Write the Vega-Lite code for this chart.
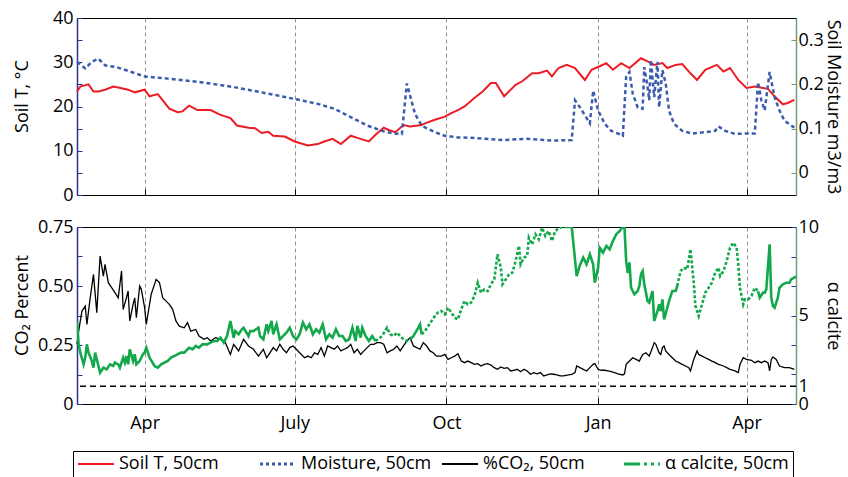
{
  "$schema": "https://vega.github.io/schema/vega-lite/v6.json",
  "padding": {"left": 12, "top": 8, "right": 0, "bottom": 0},
  "background": "white",
  "config": {
    "font": "Open Sans",
    "view": {"stroke": "black", "strokeWidth": 1},
    "axis": {"labelFontSize": 18, "titleFontSize": 18, "titleFontWeight": "normal", "labelColor": "black", "titleColor": "black", "tickColor": "black", "grid": false, "labelOverlap": false}
  },
  "datasets": {
    "soilT": [
      {"date": "2012-02-20", "temp": 23.4}, {"date": "2012-02-22", "temp": 24.5}, {"date": "2012-02-27", "temp": 25.0}, {"date": "2012-03-01", "temp": 23.4},
      {"date": "2012-03-04", "temp": 23.4}, {"date": "2012-03-08", "temp": 23.8}, {"date": "2012-03-13", "temp": 24.5}, {"date": "2012-03-16", "temp": 24.3},
      {"date": "2012-03-22", "temp": 23.8}, {"date": "2012-03-26", "temp": 23.2}, {"date": "2012-04-01", "temp": 23.8}, {"date": "2012-04-04", "temp": 22.3},
      {"date": "2012-04-09", "temp": 22.8}, {"date": "2012-04-16", "temp": 19.5}, {"date": "2012-04-21", "temp": 18.7}, {"date": "2012-04-24", "temp": 18.9},
      {"date": "2012-04-28", "temp": 20.2}, {"date": "2012-05-03", "temp": 19.2}, {"date": "2012-05-11", "temp": 19.2}, {"date": "2012-05-17", "temp": 18.1},
      {"date": "2012-05-23", "temp": 17.4}, {"date": "2012-05-27", "temp": 15.7}, {"date": "2012-06-03", "temp": 15.2}, {"date": "2012-06-07", "temp": 15.1},
      {"date": "2012-06-11", "temp": 14.0}, {"date": "2012-06-15", "temp": 14.3}, {"date": "2012-06-18", "temp": 13.4}, {"date": "2012-06-25", "temp": 13.2},
      {"date": "2012-07-01", "temp": 12.1}, {"date": "2012-07-09", "temp": 11.2}, {"date": "2012-07-15", "temp": 11.5}, {"date": "2012-07-19", "temp": 12.1},
      {"date": "2012-07-24", "temp": 12.7}, {"date": "2012-07-29", "temp": 11.5}, {"date": "2012-08-04", "temp": 13.4}, {"date": "2012-08-09", "temp": 12.8},
      {"date": "2012-08-15", "temp": 12.1}, {"date": "2012-08-19", "temp": 13.6}, {"date": "2012-08-24", "temp": 15.2}, {"date": "2012-08-27", "temp": 14.7},
      {"date": "2012-08-31", "temp": 14.2}, {"date": "2012-09-05", "temp": 15.8}, {"date": "2012-09-09", "temp": 15.5}, {"date": "2012-09-16", "temp": 15.8},
      {"date": "2012-09-18", "temp": 16.2}, {"date": "2012-09-24", "temp": 17.0}, {"date": "2012-09-30", "temp": 17.7}, {"date": "2012-10-04", "temp": 18.5},
      {"date": "2012-10-08", "temp": 19.2}, {"date": "2012-10-12", "temp": 20.0}, {"date": "2012-10-18", "temp": 21.9}, {"date": "2012-10-23", "temp": 23.4},
      {"date": "2012-10-28", "temp": 25.3}, {"date": "2012-10-31", "temp": 25.3}, {"date": "2012-11-05", "temp": 22.3}, {"date": "2012-11-12", "temp": 24.9},
      {"date": "2012-11-16", "temp": 25.7}, {"date": "2012-11-22", "temp": 27.5}, {"date": "2012-11-26", "temp": 27.5}, {"date": "2012-12-01", "temp": 28.1},
      {"date": "2012-12-04", "temp": 26.8}, {"date": "2012-12-08", "temp": 28.7}, {"date": "2012-12-13", "temp": 29.4}, {"date": "2012-12-18", "temp": 28.7},
      {"date": "2012-12-24", "temp": 26.0}, {"date": "2012-12-28", "temp": 28.3}, {"date": "2013-01-02", "temp": 29.1}, {"date": "2013-01-06", "temp": 29.8},
      {"date": "2013-01-10", "temp": 28.3}, {"date": "2013-01-15", "temp": 29.8}, {"date": "2013-01-20", "temp": 28.7}, {"date": "2013-01-27", "temp": 30.9},
      {"date": "2013-01-31", "temp": 30.2}, {"date": "2013-02-04", "temp": 29.4}, {"date": "2013-02-09", "temp": 29.8}, {"date": "2013-02-12", "temp": 28.7},
      {"date": "2013-02-17", "temp": 29.4}, {"date": "2013-02-21", "temp": 29.6}, {"date": "2013-02-26", "temp": 27.5}, {"date": "2013-03-02", "temp": 26.0},
      {"date": "2013-03-07", "temp": 28.3}, {"date": "2013-03-14", "temp": 29.4}, {"date": "2013-03-18", "temp": 27.9}, {"date": "2013-03-22", "temp": 28.7},
      {"date": "2013-03-27", "temp": 26.0}, {"date": "2013-04-01", "temp": 24.2}, {"date": "2013-04-06", "temp": 24.5}, {"date": "2013-04-11", "temp": 24.2},
      {"date": "2013-04-14", "temp": 24.0}, {"date": "2013-04-18", "temp": 22.3}, {"date": "2013-04-23", "temp": 20.5}, {"date": "2013-04-26", "temp": 20.8},
      {"date": "2013-04-30", "temp": 21.5}
    ],
    "moisture": [
      {"date": "2012-02-20", "moisture": 0.251}, {"date": "2012-02-25", "moisture": 0.236}, {"date": "2012-02-29", "moisture": 0.251}, {"date": "2012-03-04", "moisture": 0.258},
      {"date": "2012-03-08", "moisture": 0.243}, {"date": "2012-03-15", "moisture": 0.239}, {"date": "2012-04-01", "moisture": 0.218}, {"date": "2012-04-15", "moisture": 0.213},
      {"date": "2012-05-05", "moisture": 0.205}, {"date": "2012-05-25", "moisture": 0.194}, {"date": "2012-06-15", "moisture": 0.179}, {"date": "2012-07-01", "moisture": 0.167},
      {"date": "2012-07-15", "moisture": 0.156}, {"date": "2012-07-25", "moisture": 0.145}, {"date": "2012-08-04", "moisture": 0.126}, {"date": "2012-08-14", "moisture": 0.107},
      {"date": "2012-08-24", "moisture": 0.094}, {"date": "2012-08-30", "moisture": 0.089}, {"date": "2012-09-04", "moisture": 0.088}, {"date": "2012-09-07", "moisture": 0.202},
      {"date": "2012-09-12", "moisture": 0.133}, {"date": "2012-09-16", "moisture": 0.107}, {"date": "2012-09-18", "moisture": 0.103}, {"date": "2012-09-24", "moisture": 0.092},
      {"date": "2012-09-30", "moisture": 0.084}, {"date": "2012-10-08", "moisture": 0.080}, {"date": "2012-10-18", "moisture": 0.079}, {"date": "2012-11-04", "moisture": 0.074},
      {"date": "2012-11-18", "moisture": 0.077}, {"date": "2012-12-04", "moisture": 0.073}, {"date": "2012-12-16", "moisture": 0.074}, {"date": "2012-12-18", "moisture": 0.164},
      {"date": "2012-12-21", "moisture": 0.148}, {"date": "2012-12-24", "moisture": 0.130}, {"date": "2012-12-27", "moisture": 0.112}, {"date": "2012-12-29", "moisture": 0.186},
      {"date": "2013-01-01", "moisture": 0.141}, {"date": "2013-01-05", "moisture": 0.111}, {"date": "2013-01-09", "moisture": 0.095}, {"date": "2013-01-13", "moisture": 0.089},
      {"date": "2013-01-16", "moisture": 0.084}, {"date": "2013-01-18", "moisture": 0.217}, {"date": "2013-01-20", "moisture": 0.228}, {"date": "2013-01-22", "moisture": 0.179},
      {"date": "2013-01-25", "moisture": 0.148}, {"date": "2013-01-28", "moisture": 0.145}, {"date": "2013-01-29", "moisture": 0.239}, {"date": "2013-01-31", "moisture": 0.194},
      {"date": "2013-02-01", "moisture": 0.164}, {"date": "2013-02-02", "moisture": 0.255}, {"date": "2013-02-04", "moisture": 0.171}, {"date": "2013-02-06", "moisture": 0.251},
      {"date": "2013-02-07", "moisture": 0.148}, {"date": "2013-02-09", "moisture": 0.232}, {"date": "2013-02-11", "moisture": 0.202}, {"date": "2013-02-13", "moisture": 0.141},
      {"date": "2013-02-16", "moisture": 0.111}, {"date": "2013-02-21", "moisture": 0.095}, {"date": "2013-02-27", "moisture": 0.089}, {"date": "2013-03-07", "moisture": 0.092},
      {"date": "2013-03-13", "moisture": 0.095}, {"date": "2013-03-15", "moisture": 0.105}, {"date": "2013-03-19", "moisture": 0.095}, {"date": "2013-03-25", "moisture": 0.088},
      {"date": "2013-03-31", "moisture": 0.089}, {"date": "2013-04-06", "moisture": 0.089}, {"date": "2013-04-08", "moisture": 0.205}, {"date": "2013-04-10", "moisture": 0.164},
      {"date": "2013-04-12", "moisture": 0.141}, {"date": "2013-04-15", "moisture": 0.228}, {"date": "2013-04-18", "moisture": 0.171}, {"date": "2013-04-21", "moisture": 0.141},
      {"date": "2013-04-24", "moisture": 0.118}, {"date": "2013-04-28", "moisture": 0.107}, {"date": "2013-04-30", "moisture": 0.103}
    ],
    "co2": [
      {"date": "2012-02-20", "co2": 0.253}, {"date": "2012-02-21", "co2": 0.309}, {"date": "2012-02-23", "co2": 0.394}, {"date": "2012-02-25", "co2": 0.415},
      {"date": "2012-02-26", "co2": 0.337}, {"date": "2012-02-28", "co2": 0.450}, {"date": "2012-03-01", "co2": 0.549}, {"date": "2012-03-03", "co2": 0.387},
      {"date": "2012-03-05", "co2": 0.627}, {"date": "2012-03-07", "co2": 0.542}, {"date": "2012-03-08", "co2": 0.592}, {"date": "2012-03-10", "co2": 0.514},
      {"date": "2012-03-12", "co2": 0.493}, {"date": "2012-03-14", "co2": 0.472}, {"date": "2012-03-16", "co2": 0.450}, {"date": "2012-03-18", "co2": 0.563},
      {"date": "2012-03-19", "co2": 0.401}, {"date": "2012-03-21", "co2": 0.450}, {"date": "2012-03-22", "co2": 0.479}, {"date": "2012-03-23", "co2": 0.352},
      {"date": "2012-03-25", "co2": 0.422}, {"date": "2012-03-26", "co2": 0.450}, {"date": "2012-03-27", "co2": 0.366}, {"date": "2012-03-29", "co2": 0.500},
      {"date": "2012-03-30", "co2": 0.486}, {"date": "2012-04-01", "co2": 0.408}, {"date": "2012-04-02", "co2": 0.337}, {"date": "2012-04-05", "co2": 0.465},
      {"date": "2012-04-08", "co2": 0.528}, {"date": "2012-04-10", "co2": 0.514}, {"date": "2012-04-12", "co2": 0.450}, {"date": "2012-04-14", "co2": 0.436},
      {"date": "2012-04-16", "co2": 0.422}, {"date": "2012-04-18", "co2": 0.401}, {"date": "2012-04-20", "co2": 0.352}, {"date": "2012-04-22", "co2": 0.330},
      {"date": "2012-04-25", "co2": 0.323}, {"date": "2012-04-27", "co2": 0.345}, {"date": "2012-04-29", "co2": 0.309}, {"date": "2012-05-02", "co2": 0.316},
      {"date": "2012-05-04", "co2": 0.288}, {"date": "2012-05-07", "co2": 0.274}, {"date": "2012-05-09", "co2": 0.281}, {"date": "2012-05-11", "co2": 0.267},
      {"date": "2012-05-14", "co2": 0.281}, {"date": "2012-05-17", "co2": 0.274}, {"date": "2012-05-20", "co2": 0.260}, {"date": "2012-05-23", "co2": 0.210},
      {"date": "2012-05-25", "co2": 0.253}, {"date": "2012-05-28", "co2": 0.225}, {"date": "2012-05-31", "co2": 0.274}, {"date": "2012-06-03", "co2": 0.246},
      {"date": "2012-06-06", "co2": 0.232}, {"date": "2012-06-09", "co2": 0.203}, {"date": "2012-06-12", "co2": 0.232}, {"date": "2012-06-14", "co2": 0.196},
      {"date": "2012-06-16", "co2": 0.217}, {"date": "2012-06-18", "co2": 0.239}, {"date": "2012-06-20", "co2": 0.225}, {"date": "2012-06-22", "co2": 0.253},
      {"date": "2012-06-24", "co2": 0.232}, {"date": "2012-06-26", "co2": 0.217}, {"date": "2012-06-28", "co2": 0.239}, {"date": "2012-06-30", "co2": 0.246},
      {"date": "2012-07-02", "co2": 0.232}, {"date": "2012-07-04", "co2": 0.217}, {"date": "2012-07-07", "co2": 0.196}, {"date": "2012-07-09", "co2": 0.203},
      {"date": "2012-07-11", "co2": 0.196}, {"date": "2012-07-13", "co2": 0.217}, {"date": "2012-07-15", "co2": 0.210}, {"date": "2012-07-17", "co2": 0.239},
      {"date": "2012-07-19", "co2": 0.203}, {"date": "2012-07-21", "co2": 0.246}, {"date": "2012-07-23", "co2": 0.239}, {"date": "2012-07-25", "co2": 0.232},
      {"date": "2012-07-27", "co2": 0.246}, {"date": "2012-07-29", "co2": 0.225}, {"date": "2012-07-31", "co2": 0.232}, {"date": "2012-08-02", "co2": 0.239},
      {"date": "2012-08-04", "co2": 0.253}, {"date": "2012-08-06", "co2": 0.217}, {"date": "2012-08-08", "co2": 0.232}, {"date": "2012-08-10", "co2": 0.210},
      {"date": "2012-08-12", "co2": 0.225}, {"date": "2012-08-14", "co2": 0.239}, {"date": "2012-08-16", "co2": 0.253}, {"date": "2012-08-18", "co2": 0.253},
      {"date": "2012-08-20", "co2": 0.260}, {"date": "2012-08-22", "co2": 0.260}, {"date": "2012-08-24", "co2": 0.253}, {"date": "2012-08-26", "co2": 0.217},
      {"date": "2012-08-28", "co2": 0.225}, {"date": "2012-08-30", "co2": 0.232}, {"date": "2012-09-01", "co2": 0.246}, {"date": "2012-09-03", "co2": 0.225},
      {"date": "2012-09-05", "co2": 0.246}, {"date": "2012-09-07", "co2": 0.267}, {"date": "2012-09-09", "co2": 0.281}, {"date": "2012-09-11", "co2": 0.246},
      {"date": "2012-09-13", "co2": 0.239}, {"date": "2012-09-15", "co2": 0.232}, {"date": "2012-09-17", "co2": 0.260}, {"date": "2012-09-19", "co2": 0.246},
      {"date": "2012-09-21", "co2": 0.225}, {"date": "2012-09-23", "co2": 0.217}, {"date": "2012-09-25", "co2": 0.203}, {"date": "2012-09-28", "co2": 0.203},
      {"date": "2012-09-30", "co2": 0.210}, {"date": "2012-10-02", "co2": 0.189}, {"date": "2012-10-04", "co2": 0.196}, {"date": "2012-10-06", "co2": 0.203},
      {"date": "2012-10-08", "co2": 0.213}, {"date": "2012-10-10", "co2": 0.182}, {"date": "2012-10-12", "co2": 0.175}, {"date": "2012-10-14", "co2": 0.182},
      {"date": "2012-10-16", "co2": 0.175}, {"date": "2012-10-18", "co2": 0.168}, {"date": "2012-10-20", "co2": 0.171}, {"date": "2012-10-22", "co2": 0.161},
      {"date": "2012-10-24", "co2": 0.168}, {"date": "2012-10-26", "co2": 0.171}, {"date": "2012-10-28", "co2": 0.165}, {"date": "2012-10-30", "co2": 0.154},
      {"date": "2012-11-01", "co2": 0.147}, {"date": "2012-11-03", "co2": 0.157}, {"date": "2012-11-05", "co2": 0.151}, {"date": "2012-11-07", "co2": 0.154},
      {"date": "2012-11-09", "co2": 0.140}, {"date": "2012-11-11", "co2": 0.143}, {"date": "2012-11-13", "co2": 0.147}, {"date": "2012-11-15", "co2": 0.137},
      {"date": "2012-11-17", "co2": 0.147}, {"date": "2012-11-19", "co2": 0.140}, {"date": "2012-11-21", "co2": 0.126}, {"date": "2012-11-23", "co2": 0.133},
      {"date": "2012-11-25", "co2": 0.128}, {"date": "2012-11-27", "co2": 0.133}, {"date": "2012-11-29", "co2": 0.119}, {"date": "2012-12-01", "co2": 0.123},
      {"date": "2012-12-03", "co2": 0.128}, {"date": "2012-12-05", "co2": 0.126}, {"date": "2012-12-07", "co2": 0.123}, {"date": "2012-12-09", "co2": 0.119},
      {"date": "2012-12-11", "co2": 0.119}, {"date": "2012-12-14", "co2": 0.123}, {"date": "2012-12-16", "co2": 0.126}, {"date": "2012-12-18", "co2": 0.133},
      {"date": "2012-12-19", "co2": 0.161}, {"date": "2012-12-21", "co2": 0.154}, {"date": "2012-12-23", "co2": 0.147}, {"date": "2012-12-25", "co2": 0.140},
      {"date": "2012-12-27", "co2": 0.154}, {"date": "2012-12-29", "co2": 0.168}, {"date": "2012-12-30", "co2": 0.171}, {"date": "2013-01-01", "co2": 0.147},
      {"date": "2013-01-03", "co2": 0.143}, {"date": "2013-01-05", "co2": 0.143}, {"date": "2013-01-07", "co2": 0.140}, {"date": "2013-01-09", "co2": 0.137},
      {"date": "2013-01-11", "co2": 0.133}, {"date": "2013-01-13", "co2": 0.128}, {"date": "2013-01-16", "co2": 0.123}, {"date": "2013-01-17", "co2": 0.128},
      {"date": "2013-01-18", "co2": 0.168}, {"date": "2013-01-20", "co2": 0.182}, {"date": "2013-01-22", "co2": 0.196}, {"date": "2013-01-24", "co2": 0.189},
      {"date": "2013-01-26", "co2": 0.182}, {"date": "2013-01-28", "co2": 0.210}, {"date": "2013-01-30", "co2": 0.217}, {"date": "2013-02-01", "co2": 0.203},
      {"date": "2013-02-03", "co2": 0.239}, {"date": "2013-02-04", "co2": 0.260}, {"date": "2013-02-05", "co2": 0.253}, {"date": "2013-02-07", "co2": 0.217},
      {"date": "2013-02-08", "co2": 0.210}, {"date": "2013-02-09", "co2": 0.239}, {"date": "2013-02-10", "co2": 0.246}, {"date": "2013-02-11", "co2": 0.225},
      {"date": "2013-02-13", "co2": 0.210}, {"date": "2013-02-15", "co2": 0.196}, {"date": "2013-02-17", "co2": 0.182}, {"date": "2013-02-19", "co2": 0.175},
      {"date": "2013-02-21", "co2": 0.168}, {"date": "2013-02-23", "co2": 0.161}, {"date": "2013-02-25", "co2": 0.154}, {"date": "2013-02-26", "co2": 0.140},
      {"date": "2013-02-28", "co2": 0.189}, {"date": "2013-03-02", "co2": 0.225}, {"date": "2013-03-03", "co2": 0.210}, {"date": "2013-03-05", "co2": 0.203},
      {"date": "2013-03-07", "co2": 0.196}, {"date": "2013-03-09", "co2": 0.189}, {"date": "2013-03-11", "co2": 0.182}, {"date": "2013-03-13", "co2": 0.175},
      {"date": "2013-03-15", "co2": 0.168}, {"date": "2013-03-18", "co2": 0.161}, {"date": "2013-03-20", "co2": 0.154}, {"date": "2013-03-22", "co2": 0.147},
      {"date": "2013-03-25", "co2": 0.140}, {"date": "2013-03-27", "co2": 0.133}, {"date": "2013-03-28", "co2": 0.168}, {"date": "2013-03-30", "co2": 0.196},
      {"date": "2013-04-01", "co2": 0.189}, {"date": "2013-04-04", "co2": 0.185}, {"date": "2013-04-06", "co2": 0.175}, {"date": "2013-04-08", "co2": 0.182},
      {"date": "2013-04-10", "co2": 0.175}, {"date": "2013-04-12", "co2": 0.182}, {"date": "2013-04-14", "co2": 0.175}, {"date": "2013-04-15", "co2": 0.140},
      {"date": "2013-04-16", "co2": 0.189}, {"date": "2013-04-17", "co2": 0.199}, {"date": "2013-04-19", "co2": 0.189}, {"date": "2013-04-21", "co2": 0.161},
      {"date": "2013-04-24", "co2": 0.154}, {"date": "2013-04-27", "co2": 0.154}, {"date": "2013-04-30", "co2": 0.147}
    ],
    "alpha": [
      {"date": "2012-02-20", "alpha": 4.69, "seg": 1, "method": "measured"}, {"date": "2012-02-21", "alpha": 3.37, "seg": 1, "method": "measured"},
      {"date": "2012-02-22", "alpha": 2.90, "seg": 1, "method": "measured"}, {"date": "2012-02-24", "alpha": 2.24, "seg": 1, "method": "measured"},
      {"date": "2012-02-25", "alpha": 2.62, "seg": 1, "method": "measured"}, {"date": "2012-02-26", "alpha": 3.37, "seg": 1, "method": "measured"},
      {"date": "2012-02-27", "alpha": 2.90, "seg": 1, "method": "measured"}, {"date": "2012-02-29", "alpha": 2.43, "seg": 1, "method": "measured"},
      {"date": "2012-03-01", "alpha": 2.05, "seg": 1, "method": "measured"}, {"date": "2012-03-02", "alpha": 2.90, "seg": 1, "method": "measured"},
      {"date": "2012-03-04", "alpha": 2.15, "seg": 1, "method": "measured"}, {"date": "2012-03-05", "alpha": 1.77, "seg": 1, "method": "measured"},
      {"date": "2012-03-07", "alpha": 2.05, "seg": 1, "method": "measured"}, {"date": "2012-03-09", "alpha": 1.96, "seg": 1, "method": "measured"},
      {"date": "2012-03-11", "alpha": 2.24, "seg": 1, "method": "measured"}, {"date": "2012-03-13", "alpha": 2.15, "seg": 1, "method": "measured"},
      {"date": "2012-03-14", "alpha": 2.34, "seg": 1, "method": "measured"}, {"date": "2012-03-16", "alpha": 2.24, "seg": 1, "method": "measured"},
      {"date": "2012-03-17", "alpha": 2.05, "seg": 1, "method": "measured"}, {"date": "2012-03-19", "alpha": 2.62, "seg": 1, "method": "measured"},
      {"date": "2012-03-20", "alpha": 2.34, "seg": 1, "method": "measured"}, {"date": "2012-03-21", "alpha": 2.71, "seg": 1, "method": "measured"},
      {"date": "2012-03-22", "alpha": 2.24, "seg": 1, "method": "measured"}, {"date": "2012-03-23", "alpha": 3.09, "seg": 1, "method": "measured"},
      {"date": "2012-03-25", "alpha": 2.43, "seg": 1, "method": "measured"}, {"date": "2012-03-26", "alpha": 2.81, "seg": 1, "method": "measured"},
      {"date": "2012-03-27", "alpha": 2.24, "seg": 1, "method": "measured"}, {"date": "2012-03-29", "alpha": 2.43, "seg": 1, "method": "measured"},
      {"date": "2012-03-31", "alpha": 2.81, "seg": 1, "method": "measured"}, {"date": "2012-04-01", "alpha": 2.90, "seg": 1, "method": "measured"},
      {"date": "2012-04-02", "alpha": 3.18, "seg": 1, "method": "measured"}, {"date": "2012-04-04", "alpha": 2.62, "seg": 1, "method": "measured"},
      {"date": "2012-04-07", "alpha": 2.15, "seg": 1, "method": "measured"}, {"date": "2012-04-09", "alpha": 2.05, "seg": 1, "method": "measured"},
      {"date": "2012-04-11", "alpha": 2.24, "seg": 1, "method": "measured"}, {"date": "2012-04-13", "alpha": 2.34, "seg": 1, "method": "measured"},
      {"date": "2012-04-15", "alpha": 2.43, "seg": 1, "method": "measured"}, {"date": "2012-04-17", "alpha": 2.62, "seg": 1, "method": "measured"},
      {"date": "2012-04-19", "alpha": 2.71, "seg": 1, "method": "measured"}, {"date": "2012-04-21", "alpha": 2.81, "seg": 1, "method": "measured"},
      {"date": "2012-04-23", "alpha": 2.90, "seg": 1, "method": "measured"}, {"date": "2012-04-25", "alpha": 2.90, "seg": 1, "method": "measured"},
      {"date": "2012-04-28", "alpha": 3.18, "seg": 1, "method": "measured"}, {"date": "2012-04-30", "alpha": 3.09, "seg": 1, "method": "measured"},
      {"date": "2012-05-02", "alpha": 3.28, "seg": 1, "method": "measured"}, {"date": "2012-05-04", "alpha": 3.18, "seg": 1, "method": "measured"},
      {"date": "2012-05-06", "alpha": 3.37, "seg": 1, "method": "measured"}, {"date": "2012-05-09", "alpha": 3.37, "seg": 1, "method": "measured"},
      {"date": "2012-05-11", "alpha": 3.47, "seg": 1, "method": "measured"}, {"date": "2012-05-13", "alpha": 3.56, "seg": 1, "method": "measured"},
      {"date": "2012-05-15", "alpha": 3.56, "seg": 1, "method": "measured"}, {"date": "2012-05-17", "alpha": 3.75, "seg": 1, "method": "measured"},
      {"date": "2012-05-19", "alpha": 3.47, "seg": 1, "method": "measured"}, {"date": "2012-05-21", "alpha": 3.84, "seg": 1, "method": "measured"},
      {"date": "2012-05-23", "alpha": 4.69, "seg": 1, "method": "measured"}, {"date": "2012-05-25", "alpha": 3.75, "seg": 1, "method": "measured"},
      {"date": "2012-05-26", "alpha": 4.12, "seg": 1, "method": "measured"}, {"date": "2012-05-28", "alpha": 3.94, "seg": 1, "method": "measured"},
      {"date": "2012-05-30", "alpha": 4.22, "seg": 1, "method": "measured"}, {"date": "2012-05-31", "alpha": 4.31, "seg": 1, "method": "measured"},
      {"date": "2012-06-03", "alpha": 3.84, "seg": 1, "method": "measured"}, {"date": "2012-06-04", "alpha": 4.12, "seg": 1, "method": "measured"},
      {"date": "2012-06-06", "alpha": 4.12, "seg": 1, "method": "measured"}, {"date": "2012-06-09", "alpha": 4.31, "seg": 1, "method": "measured"},
      {"date": "2012-06-10", "alpha": 3.84, "seg": 1, "method": "measured"}, {"date": "2012-06-12", "alpha": 3.65, "seg": 1, "method": "measured"},
      {"date": "2012-06-14", "alpha": 4.50, "seg": 1, "method": "measured"}, {"date": "2012-06-15", "alpha": 4.12, "seg": 1, "method": "measured"},
      {"date": "2012-06-17", "alpha": 4.69, "seg": 1, "method": "measured"}, {"date": "2012-06-18", "alpha": 3.94, "seg": 1, "method": "measured"},
      {"date": "2012-06-20", "alpha": 4.50, "seg": 1, "method": "measured"}, {"date": "2012-06-22", "alpha": 3.65, "seg": 1, "method": "measured"},
      {"date": "2012-06-24", "alpha": 3.84, "seg": 1, "method": "measured"}, {"date": "2012-06-26", "alpha": 4.03, "seg": 1, "method": "measured"},
      {"date": "2012-06-28", "alpha": 4.31, "seg": 1, "method": "measured"}, {"date": "2012-06-30", "alpha": 3.84, "seg": 1, "method": "measured"},
      {"date": "2012-07-02", "alpha": 3.65, "seg": 1, "method": "measured"}, {"date": "2012-07-04", "alpha": 3.94, "seg": 1, "method": "measured"},
      {"date": "2012-07-06", "alpha": 4.60, "seg": 1, "method": "measured"}, {"date": "2012-07-08", "alpha": 4.22, "seg": 1, "method": "measured"},
      {"date": "2012-07-10", "alpha": 4.50, "seg": 1, "method": "measured"}, {"date": "2012-07-12", "alpha": 3.94, "seg": 1, "method": "measured"},
      {"date": "2012-07-14", "alpha": 4.22, "seg": 1, "method": "measured"}, {"date": "2012-07-16", "alpha": 4.03, "seg": 1, "method": "measured"},
      {"date": "2012-07-18", "alpha": 4.50, "seg": 1, "method": "measured"}, {"date": "2012-07-20", "alpha": 3.65, "seg": 1, "method": "measured"},
      {"date": "2012-07-22", "alpha": 3.94, "seg": 1, "method": "measured"}, {"date": "2012-07-24", "alpha": 3.75, "seg": 1, "method": "measured"},
      {"date": "2012-07-26", "alpha": 4.22, "seg": 1, "method": "measured"}, {"date": "2012-07-28", "alpha": 3.84, "seg": 1, "method": "measured"},
      {"date": "2012-07-30", "alpha": 3.84, "seg": 1, "method": "measured"}, {"date": "2012-08-01", "alpha": 3.56, "seg": 1, "method": "measured"},
      {"date": "2012-08-03", "alpha": 3.65, "seg": 1, "method": "measured"}, {"date": "2012-08-05", "alpha": 4.31, "seg": 1, "method": "measured"},
      {"date": "2012-08-07", "alpha": 3.56, "seg": 1, "method": "measured"}, {"date": "2012-08-08", "alpha": 4.41, "seg": 1, "method": "measured"},
      {"date": "2012-08-10", "alpha": 3.75, "seg": 1, "method": "measured"}, {"date": "2012-08-11", "alpha": 4.31, "seg": 1, "method": "measured"},
      {"date": "2012-08-13", "alpha": 3.84, "seg": 1, "method": "measured"}, {"date": "2012-08-15", "alpha": 3.56, "seg": 1, "method": "measured"},
      {"date": "2012-08-17", "alpha": 3.84, "seg": 1, "method": "measured"}, {"date": "2012-08-19", "alpha": 3.56, "seg": 1, "method": "measured"},
      {"date": "2012-08-19", "alpha": 3.56, "seg": 2, "method": "modelled"}, {"date": "2012-08-23", "alpha": 3.84, "seg": 2, "method": "modelled"},
      {"date": "2012-08-26", "alpha": 4.31, "seg": 2, "method": "modelled"}, {"date": "2012-08-28", "alpha": 3.94, "seg": 2, "method": "modelled"},
      {"date": "2012-08-30", "alpha": 3.84, "seg": 2, "method": "modelled"}, {"date": "2012-09-01", "alpha": 4.03, "seg": 2, "method": "modelled"},
      {"date": "2012-09-03", "alpha": 3.84, "seg": 2, "method": "modelled"}, {"date": "2012-09-05", "alpha": 3.65, "seg": 2, "method": "modelled"},
      {"date": "2012-09-07", "alpha": 3.56, "seg": 2, "method": "modelled"}, {"date": "2012-09-09", "alpha": 3.65, "seg": 2, "method": "modelled"},
      {"date": "2012-09-09", "alpha": 3.65, "seg": 3, "method": "measured"}, {"date": "2012-09-11", "alpha": 3.84, "seg": 3, "method": "measured"},
      {"date": "2012-09-14", "alpha": 4.31, "seg": 3, "method": "measured"}, {"date": "2012-09-15", "alpha": 4.50, "seg": 3, "method": "measured"},
      {"date": "2012-09-16", "alpha": 3.94, "seg": 3, "method": "measured"},
      {"date": "2012-09-16", "alpha": 3.94, "seg": 4, "method": "modelled"}, {"date": "2012-09-18", "alpha": 4.12, "seg": 4, "method": "modelled"},
      {"date": "2012-09-20", "alpha": 4.41, "seg": 4, "method": "modelled"}, {"date": "2012-09-22", "alpha": 4.69, "seg": 4, "method": "modelled"},
      {"date": "2012-09-24", "alpha": 4.97, "seg": 4, "method": "modelled"}, {"date": "2012-09-26", "alpha": 5.18, "seg": 4, "method": "modelled"},
      {"date": "2012-09-28", "alpha": 5.25, "seg": 4, "method": "modelled"}, {"date": "2012-09-30", "alpha": 5.07, "seg": 4, "method": "modelled"},
      {"date": "2012-10-02", "alpha": 5.44, "seg": 4, "method": "modelled"}, {"date": "2012-10-04", "alpha": 5.16, "seg": 4, "method": "modelled"},
      {"date": "2012-10-06", "alpha": 4.88, "seg": 4, "method": "modelled"}, {"date": "2012-10-08", "alpha": 4.78, "seg": 4, "method": "modelled"},
      {"date": "2012-10-10", "alpha": 5.35, "seg": 4, "method": "modelled"}, {"date": "2012-10-12", "alpha": 5.82, "seg": 4, "method": "modelled"},
      {"date": "2012-10-14", "alpha": 5.63, "seg": 4, "method": "modelled"}, {"date": "2012-10-16", "alpha": 5.73, "seg": 4, "method": "modelled"},
      {"date": "2012-10-18", "alpha": 6.10, "seg": 4, "method": "modelled"}, {"date": "2012-10-20", "alpha": 6.85, "seg": 4, "method": "modelled"},
      {"date": "2012-10-22", "alpha": 6.29, "seg": 4, "method": "modelled"}, {"date": "2012-10-24", "alpha": 6.48, "seg": 4, "method": "modelled"},
      {"date": "2012-10-26", "alpha": 6.38, "seg": 4, "method": "modelled"}, {"date": "2012-10-28", "alpha": 6.76, "seg": 4, "method": "modelled"},
      {"date": "2012-10-30", "alpha": 7.04, "seg": 4, "method": "modelled"}, {"date": "2012-11-01", "alpha": 8.46, "seg": 4, "method": "modelled"},
      {"date": "2012-11-03", "alpha": 7.70, "seg": 4, "method": "modelled"}, {"date": "2012-11-04", "alpha": 6.76, "seg": 4, "method": "modelled"},
      {"date": "2012-11-06", "alpha": 7.04, "seg": 4, "method": "modelled"}, {"date": "2012-11-08", "alpha": 7.33, "seg": 4, "method": "modelled"},
      {"date": "2012-11-10", "alpha": 7.42, "seg": 4, "method": "modelled"}, {"date": "2012-11-12", "alpha": 8.08, "seg": 4, "method": "modelled"},
      {"date": "2012-11-14", "alpha": 8.93, "seg": 4, "method": "modelled"}, {"date": "2012-11-15", "alpha": 7.89, "seg": 4, "method": "modelled"},
      {"date": "2012-11-17", "alpha": 8.27, "seg": 4, "method": "modelled"}, {"date": "2012-11-19", "alpha": 8.36, "seg": 4, "method": "modelled"},
      {"date": "2012-11-20", "alpha": 9.40, "seg": 4, "method": "modelled"}, {"date": "2012-11-22", "alpha": 9.02, "seg": 4, "method": "modelled"},
      {"date": "2012-11-24", "alpha": 9.59, "seg": 4, "method": "modelled"}, {"date": "2012-11-26", "alpha": 9.30, "seg": 4, "method": "modelled"},
      {"date": "2012-11-28", "alpha": 9.96, "seg": 4, "method": "modelled"}, {"date": "2012-11-30", "alpha": 9.49, "seg": 4, "method": "modelled"},
      {"date": "2012-12-02", "alpha": 9.77, "seg": 4, "method": "modelled"}, {"date": "2012-12-04", "alpha": 9.21, "seg": 4, "method": "modelled"},
      {"date": "2012-12-06", "alpha": 9.77, "seg": 4, "method": "modelled"}, {"date": "2012-12-08", "alpha": 9.92, "seg": 4, "method": "modelled"},
      {"date": "2012-12-10", "alpha": 10.0, "seg": 4, "method": "modelled"}, {"date": "2012-12-13", "alpha": 10.0, "seg": 4, "method": "modelled"},
      {"date": "2012-12-13", "alpha": 10.0, "seg": 5, "method": "measured"}, {"date": "2012-12-16", "alpha": 10.0, "seg": 5, "method": "measured"},
      {"date": "2012-12-19", "alpha": 7.23, "seg": 5, "method": "measured"}, {"date": "2012-12-21", "alpha": 7.85, "seg": 5, "method": "measured"},
      {"date": "2012-12-23", "alpha": 8.27, "seg": 5, "method": "measured"}, {"date": "2012-12-25", "alpha": 7.89, "seg": 5, "method": "measured"},
      {"date": "2012-12-27", "alpha": 8.46, "seg": 5, "method": "measured"}, {"date": "2012-12-29", "alpha": 7.89, "seg": 5, "method": "measured"},
      {"date": "2012-12-30", "alpha": 6.85, "seg": 5, "method": "measured"}, {"date": "2013-01-01", "alpha": 7.70, "seg": 5, "method": "measured"},
      {"date": "2013-01-02", "alpha": 8.83, "seg": 5, "method": "measured"}, {"date": "2013-01-04", "alpha": 8.55, "seg": 5, "method": "measured"},
      {"date": "2013-01-06", "alpha": 8.93, "seg": 5, "method": "measured"}, {"date": "2013-01-08", "alpha": 8.74, "seg": 5, "method": "measured"},
      {"date": "2013-01-10", "alpha": 9.21, "seg": 5, "method": "measured"}, {"date": "2013-01-12", "alpha": 9.59, "seg": 5, "method": "measured"},
      {"date": "2013-01-14", "alpha": 9.77, "seg": 5, "method": "measured"}, {"date": "2013-01-16", "alpha": 10.0, "seg": 5, "method": "measured"},
      {"date": "2013-01-17", "alpha": 10.0, "seg": 5, "method": "measured"}, {"date": "2013-01-18", "alpha": 8.1, "seg": 5, "method": "measured"},
      {"date": "2013-01-19", "alpha": 7.4, "seg": 5, "method": "measured"}, {"date": "2013-01-20", "alpha": 8.0, "seg": 5, "method": "measured"},
      {"date": "2013-01-21", "alpha": 6.57, "seg": 5, "method": "measured"}, {"date": "2013-01-23", "alpha": 6.20, "seg": 5, "method": "measured"},
      {"date": "2013-01-25", "alpha": 6.38, "seg": 5, "method": "measured"}, {"date": "2013-01-26", "alpha": 6.67, "seg": 5, "method": "measured"},
      {"date": "2013-01-27", "alpha": 7.33, "seg": 5, "method": "measured"}, {"date": "2013-01-28", "alpha": 7.51, "seg": 5, "method": "measured"},
      {"date": "2013-01-29", "alpha": 6.76, "seg": 5, "method": "measured"}, {"date": "2013-01-31", "alpha": 5.82, "seg": 5, "method": "measured"},
      {"date": "2013-02-01", "alpha": 5.73, "seg": 5, "method": "measured"}, {"date": "2013-02-03", "alpha": 6.38, "seg": 5, "method": "measured"},
      {"date": "2013-02-04", "alpha": 4.69, "seg": 5, "method": "measured"}, {"date": "2013-02-06", "alpha": 5.25, "seg": 5, "method": "measured"},
      {"date": "2013-02-07", "alpha": 5.63, "seg": 5, "method": "measured"}, {"date": "2013-02-08", "alpha": 5.25, "seg": 5, "method": "measured"},
      {"date": "2013-02-09", "alpha": 5.91, "seg": 5, "method": "measured"}, {"date": "2013-02-10", "alpha": 4.78, "seg": 5, "method": "measured"},
      {"date": "2013-02-12", "alpha": 5.44, "seg": 5, "method": "measured"}, {"date": "2013-02-13", "alpha": 5.82, "seg": 5, "method": "measured"},
      {"date": "2013-02-15", "alpha": 6.38, "seg": 5, "method": "measured"}, {"date": "2013-02-17", "alpha": 6.38, "seg": 5, "method": "measured"},
      {"date": "2013-02-18", "alpha": 6.67, "seg": 5, "method": "measured"},
      {"date": "2013-02-18", "alpha": 6.67, "seg": 6, "method": "modelled"}, {"date": "2013-02-20", "alpha": 7.51, "seg": 6, "method": "modelled"},
      {"date": "2013-02-22", "alpha": 7.70, "seg": 6, "method": "modelled"}, {"date": "2013-02-24", "alpha": 7.61, "seg": 6, "method": "modelled"},
      {"date": "2013-02-25", "alpha": 8.17, "seg": 6, "method": "modelled"}, {"date": "2013-02-26", "alpha": 8.74, "seg": 6, "method": "modelled"},
      {"date": "2013-02-27", "alpha": 7.80, "seg": 6, "method": "modelled"}, {"date": "2013-02-28", "alpha": 6.85, "seg": 6, "method": "modelled"},
      {"date": "2013-03-01", "alpha": 5.54, "seg": 6, "method": "modelled"}, {"date": "2013-03-03", "alpha": 4.97, "seg": 6, "method": "modelled"},
      {"date": "2013-03-05", "alpha": 5.63, "seg": 6, "method": "modelled"}, {"date": "2013-03-07", "alpha": 6.29, "seg": 6, "method": "modelled"},
      {"date": "2013-03-09", "alpha": 6.57, "seg": 6, "method": "modelled"}, {"date": "2013-03-11", "alpha": 6.85, "seg": 6, "method": "modelled"},
      {"date": "2013-03-13", "alpha": 7.42, "seg": 6, "method": "modelled"}, {"date": "2013-03-15", "alpha": 7.70, "seg": 6, "method": "modelled"},
      {"date": "2013-03-16", "alpha": 7.23, "seg": 6, "method": "modelled"}, {"date": "2013-03-18", "alpha": 7.51, "seg": 6, "method": "modelled"},
      {"date": "2013-03-20", "alpha": 8.08, "seg": 6, "method": "modelled"}, {"date": "2013-03-22", "alpha": 8.83, "seg": 6, "method": "modelled"},
      {"date": "2013-03-24", "alpha": 9.11, "seg": 6, "method": "modelled"}, {"date": "2013-03-26", "alpha": 8.83, "seg": 6, "method": "modelled"},
      {"date": "2013-03-27", "alpha": 7.89, "seg": 6, "method": "modelled"}, {"date": "2013-03-28", "alpha": 6.57, "seg": 6, "method": "modelled"},
      {"date": "2013-03-30", "alpha": 5.63, "seg": 6, "method": "modelled"}, {"date": "2013-03-31", "alpha": 5.91, "seg": 6, "method": "modelled"},
      {"date": "2013-04-02", "alpha": 5.91, "seg": 6, "method": "modelled"}, {"date": "2013-04-04", "alpha": 6.10, "seg": 6, "method": "modelled"},
      {"date": "2013-04-06", "alpha": 6.57, "seg": 6, "method": "modelled"}, {"date": "2013-04-08", "alpha": 6.38, "seg": 6, "method": "modelled"},
      {"date": "2013-04-08", "alpha": 6.38, "seg": 7, "method": "measured"}, {"date": "2013-04-09", "alpha": 6.01, "seg": 7, "method": "measured"},
      {"date": "2013-04-11", "alpha": 6.29, "seg": 7, "method": "measured"}, {"date": "2013-04-12", "alpha": 6.29, "seg": 7, "method": "measured"},
      {"date": "2013-04-13", "alpha": 6.48, "seg": 7, "method": "measured"}, {"date": "2013-04-15", "alpha": 9.02, "seg": 7, "method": "measured"},
      {"date": "2013-04-16", "alpha": 6.01, "seg": 7, "method": "measured"}, {"date": "2013-04-17", "alpha": 5.54, "seg": 7, "method": "measured"},
      {"date": "2013-04-18", "alpha": 5.44, "seg": 7, "method": "measured"}, {"date": "2013-04-20", "alpha": 6.01, "seg": 7, "method": "measured"},
      {"date": "2013-04-21", "alpha": 6.57, "seg": 7, "method": "measured"}, {"date": "2013-04-23", "alpha": 6.76, "seg": 7, "method": "measured"},
      {"date": "2013-04-25", "alpha": 6.85, "seg": 7, "method": "measured"}, {"date": "2013-04-27", "alpha": 6.85, "seg": 7, "method": "measured"},
      {"date": "2013-04-28", "alpha": 7.04, "seg": 7, "method": "measured"}, {"date": "2013-04-30", "alpha": 7.14, "seg": 7, "method": "measured"},
      {"date": "2013-05-01", "alpha": 7.20, "seg": 7, "method": "measured"}
    ]
  },
  "spacing": 12,
  "vconcat": [
    {
      "width": 719,
      "height": 177,
      "layer": [
        {
          "data": {"name": "soilT"},
          "mark": {"type": "line", "strokeWidth": 2},
          "encoding": {
            "x": {
              "field": "date", "type": "temporal",
              "scale": {"type": "utc", "domain": [{"year": 2012, "month": 2, "date": 20, "utc": true}, {"year": 2013, "month": 5, "date": 1, "utc": true}]},
              "axis": {
                "title": null, "labels": false, "domain": false,
                "values": [{"year": 2012, "month": 4, "date": 1, "utc": true}, {"year": 2012, "month": 7, "date": 1, "utc": true}, {"year": 2012, "month": 10, "date": 1, "utc": true}, {"year": 2013, "month": 1, "date": 1, "utc": true}, {"year": 2013, "month": 4, "date": 1, "utc": true}],
                "grid": true, "gridDash": [4, 3], "gridColor": "#777777", "gridWidth": 0.8, "tickSize": -6
              }
            },
            "y": {
              "field": "temp", "type": "quantitative",
              "scale": {"domain": [0, 40]},
              "axis": {
                "title": "Soil T, °C", "titleX": -46, "titleY": 78,
                "values": [0, 5, 10, 15, 20, 25, 30, 35, 40],
                "labelExpr": "datum.value % 10 === 0 ? datum.label : ''",
                "tickSize": -5, "labelPadding": 9, "tickColor": "#2e3192",
                "domainColor": "#2e3192", "domainWidth": 1.5
              }
            },
            "color": {
              "datum": "Soil T, 50cm", "type": "nominal",
              "scale": {
                "domain": ["Soil T, 50cm", "Moisture, 50cm", "%CO₂, 50cm", "α calcite, 50cm"],
                "range": ["#ed1c24", "#3b5cad", "#000000", "#12a84b"]
              },
              "legend": {
                "title": null, "orient": "none", "legendX": -4, "legendY": 433,
                "direction": "horizontal", "columns": 4, "gridAlign": "all",
                "symbolType": "stroke", "symbolSize": 1296, "symbolStrokeWidth": 2, "symbolOffset": 10,
                "labelFont": "Open Sans", "labelFontSize": 18, "labelColor": "black", "labelLimit": 250,
                "labelOffset": 14, "columnPadding": 4, "padding": 4, "strokeColor": "black",
                "encode": {
                  "symbols": {
                    "update": {
                      "strokeDash": {"signal": "datum.value === 'Moisture, 50cm' ? [3, 3] : datum.value === 'α calcite, 50cm' ? [16, 4, 3, 4, 3, 4] : [1, 0]"},
                      "strokeWidth": {"signal": "datum.value === '%CO₂, 50cm' ? 1.8 : datum.value === 'Soil T, 50cm' ? 2 : 3"}
                    }
                  }
                }
              }
            }
          }
        },
        {
          "data": {"name": "moisture"},
          "mark": {"type": "line", "strokeWidth": 2.5, "strokeDash": [4, 3]},
          "encoding": {
            "x": {"field": "date", "type": "temporal"},
            "y": {
              "field": "moisture", "type": "quantitative",
              "scale": {"domain": [-0.05, 0.35]},
              "axis": {
                "orient": "right", "title": "Soil Moisture m3/m3", "titleX": 27,
                "values": [0, 0.1, 0.2, 0.3], "format": ".1~f",
                "tickSize": -5, "labelPadding": 7, "tickColor": "#6f9c7f",
                "domainColor": "#6f9c7f", "domainWidth": 1.5
              }
            },
            "color": {"datum": "Moisture, 50cm", "type": "nominal"}
          }
        }
      ],
      "resolve": {"scale": {"y": "independent"}}
    },
    {
      "width": 719,
      "height": 177,
      "layer": [
        {
          "data": {"name": "co2"},
          "mark": {"type": "line", "strokeWidth": 1.3},
          "encoding": {
            "x": {
              "field": "date", "type": "temporal",
              "scale": {"type": "utc", "domain": [{"year": 2012, "month": 2, "date": 20, "utc": true}, {"year": 2013, "month": 5, "date": 1, "utc": true}]},
              "axis": {
                "title": null, "domain": false,
                "values": [{"year": 2012, "month": 4, "date": 1, "utc": true}, {"year": 2012, "month": 7, "date": 1, "utc": true}, {"year": 2012, "month": 10, "date": 1, "utc": true}, {"year": 2013, "month": 1, "date": 1, "utc": true}, {"year": 2013, "month": 4, "date": 1, "utc": true}],
                "labelExpr": "utcFormat(datum.value, '%b') === 'Jul' ? 'July' : utcFormat(datum.value, '%b')",
                "grid": true, "gridDash": [4, 3], "gridColor": "#777777", "gridWidth": 0.8,
                "tickSize": -6, "labelPadding": 16
              }
            },
            "y": {
              "field": "co2", "type": "quantitative",
              "scale": {"domain": [0, 0.75]},
              "axis": {
                "title": "CO₂ Percent", "titleX": -46, "titleY": 78,
                "values": [0, 0.125, 0.25, 0.375, 0.5, 0.625, 0.75],
                "labelExpr": "datum.value === 0 ? '0' : (datum.value * 100) % 25 === 0 ? format(datum.value, '.2f') : ''",
                "tickSize": -5, "labelPadding": 9, "tickColor": "#2e3192",
                "domainColor": "#2e3192", "domainWidth": 1.5
              }
            },
            "color": {"datum": "%CO₂, 50cm", "type": "nominal"}
          }
        },
        {
          "data": {"values": [{}]},
          "mark": {"type": "rule", "strokeDash": [6, 4], "strokeWidth": 1.5, "color": "black"},
          "encoding": {
            "y": {"datum": 0.075, "type": "quantitative", "scale": {"domain": [0, 0.75]}, "axis": null}
          }
        },
        {
          "data": {"name": "alpha"},
          "mark": {"type": "line", "strokeWidth": 2.6, "clip": true},
          "encoding": {
            "x": {"field": "date", "type": "temporal"},
            "y": {
              "field": "alpha", "type": "quantitative",
              "scale": {"domain": [0, 10]},
              "axis": {
                "orient": "right", "title": "α calcite", "titleX": 27,
                "values": [0, 1, 1.6667, 3.3333, 5, 6.6667, 8.3333, 10],
                "labelExpr": "datum.value === 0 || datum.value === 1 || datum.value === 5 || datum.value === 10 ? datum.label : ''",
                "tickSize": -5, "labelPadding": 7, "tickColor": "#2e3192",
                "domainColor": "#6f9c7f", "domainWidth": 1.5
              }
            },
            "color": {"datum": "α calcite, 50cm", "type": "nominal"},
            "strokeDash": {
              "field": "method", "type": "nominal",
              "scale": {"domain": ["measured", "modelled"], "range": [[1, 0], [3, 2]]},
              "legend": null
            },
            "detail": {"field": "seg", "type": "nominal"}
          }
        }
      ],
      "resolve": {"scale": {"y": "independent"}}
    }
  ]
}
